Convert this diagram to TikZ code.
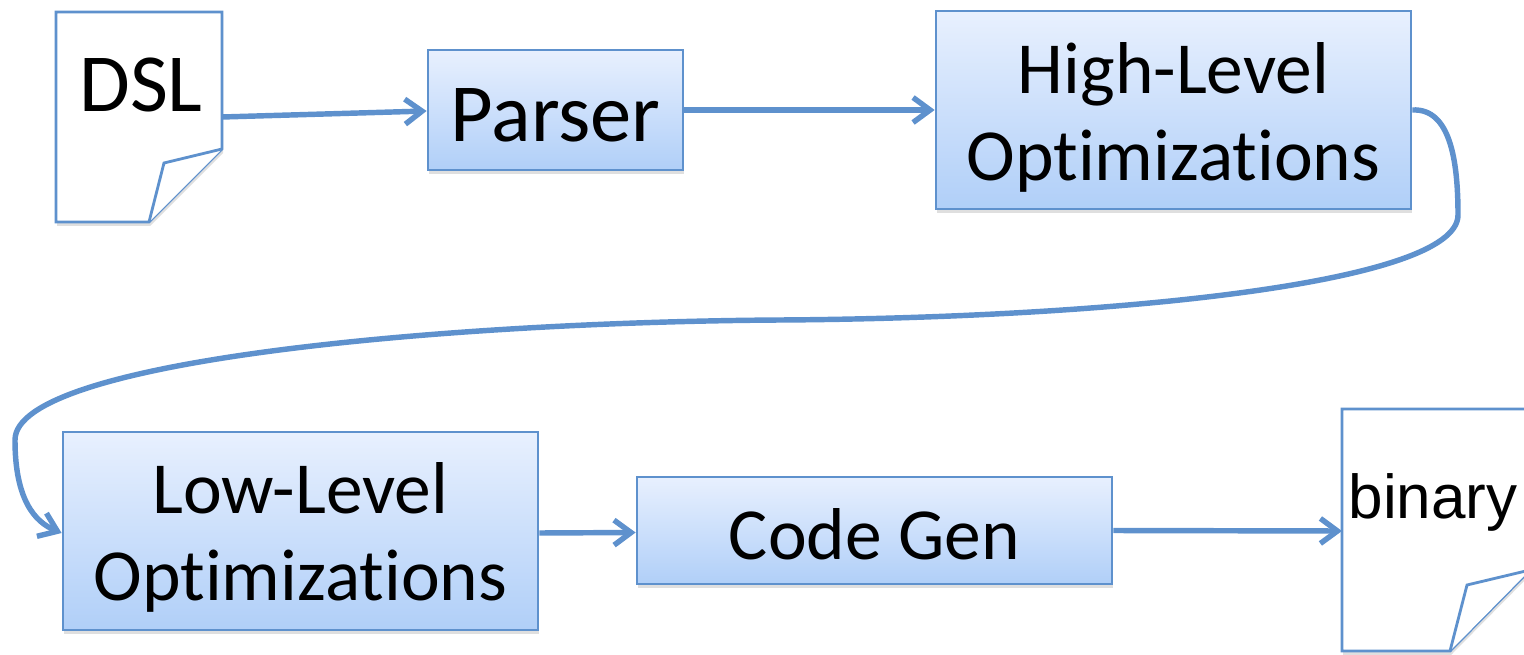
\documentclass[tikz,border=0pt]{standalone}
\usepackage{fontspec}
\setmainfont{Carlito}[Ligatures={NoCommon}]
\newfontfamily\arialf{Liberation Sans}
\usetikzlibrary{arrows.meta,shadows}
\definecolor{lineblue}{RGB}{94,145,205}
\definecolor{boxtop}{RGB}{232,240,254}
\definecolor{boxbot}{RGB}{176,207,248}
\tikzset{
  softshadow/.style={drop shadow={opacity=0.18, shadow xshift=0.02cm, shadow yshift=-0.08cm, fill=black!70}},
  stagebox/.style={draw=lineblue, line width=1.6pt, inner sep=0pt, top color=boxtop, bottom color=boxbot, rectangle, softshadow},
  docshape/.style={draw=lineblue, line width=1.6pt, fill=white, line join=miter},
  flow/.style={draw=lineblue, line width=3.1pt, -{Straight Barb[length=0.34cm, width=0.5cm, line width=3.1pt]}},
  bigtxt/.style={inner sep=0pt, anchor=base, font=\fontsize{47}{56}\selectfont},
  midtxt/.style={inner sep=0pt, anchor=base, font=\fontsize{41.8}{50}\selectfont},
  bintxt/.style={inner sep=0pt, anchor=base, font=\arialf\fontsize{35.3}{42}\selectfont},
}
\begin{document}
\begin{tikzpicture}[x=0.02cm, y=-0.02cm]
\useasboundingbox (0,0) rectangle (1524,655);
\clip (0,0) rectangle (1524,655);
% DSL document
\path[docshape, softshadow] (56,12) -- (222,12) -- (222,149) -- (149,222) -- (56,222) -- cycle;
\path[docshape] (222,149) -- (164,163) -- (149,222);
\coordinate (dslout) at (222,117);
\node[bigtxt] (dsl) at (141,112) {DSL};
% binary document
\path[docshape, softshadow] (1342,409) -- (1530,409) -- (1530,570) -- (1450,651) -- (1342,651) -- cycle;
\path[docshape] (1530,570) -- (1467,585) -- (1450,651);
\coordinate (binin) at (1342,531);
\node[bintxt] (bin) at (1433,518) {binary};
% boxes
\node[stagebox, minimum width=5.1cm, minimum height=2.4cm] (parser) at (555.5,110) {};
\node[stagebox, minimum width=9.5cm, minimum height=3.96cm] (hl) at (1173.5,110) {};
\node[stagebox, minimum width=9.5cm, minimum height=3.96cm] (ll) at (300.5,531) {};
\node[stagebox, minimum width=9.5cm, minimum height=2.14cm] (cg) at (874.5,530.5) {};
% texts
\node[bigtxt] (parsertxt) at (555.5,142) {Parser};
\node[midtxt] (hl1) at (1173.5,94) {High-Level};
\node[midtxt] (hl2) at (1173.5,181) {Optimizations};
\node[midtxt] (ll1) at (300.5,513) {Low-Level};
\node[midtxt] (ll2) at (300.5,600) {Optimizations};
\node[midtxt] (cgtxt) at (874.5,559) {Code Gen};
% connectors
\draw[flow] (dslout) -- ([yshift=-0.02cm]parser.west);
\draw[flow] (parser.east) -- (hl.west);
\draw[flow] (hl.east) .. controls (1450,108) and (1458,160) .. (1458,215)
  .. controls (1458,285) and (1100,318) .. (780,320)
  .. controls (450,322) and (15,360) .. (15,440)
  .. controls (15,500) and (35,522) .. ([yshift=-0.04cm]ll.west);
\draw[flow] ([yshift=-0.04cm]ll.east) -- ([yshift=-0.04cm]cg.west);
\draw[flow] (cg.east) -- (binin);
\end{tikzpicture}
\end{document}
